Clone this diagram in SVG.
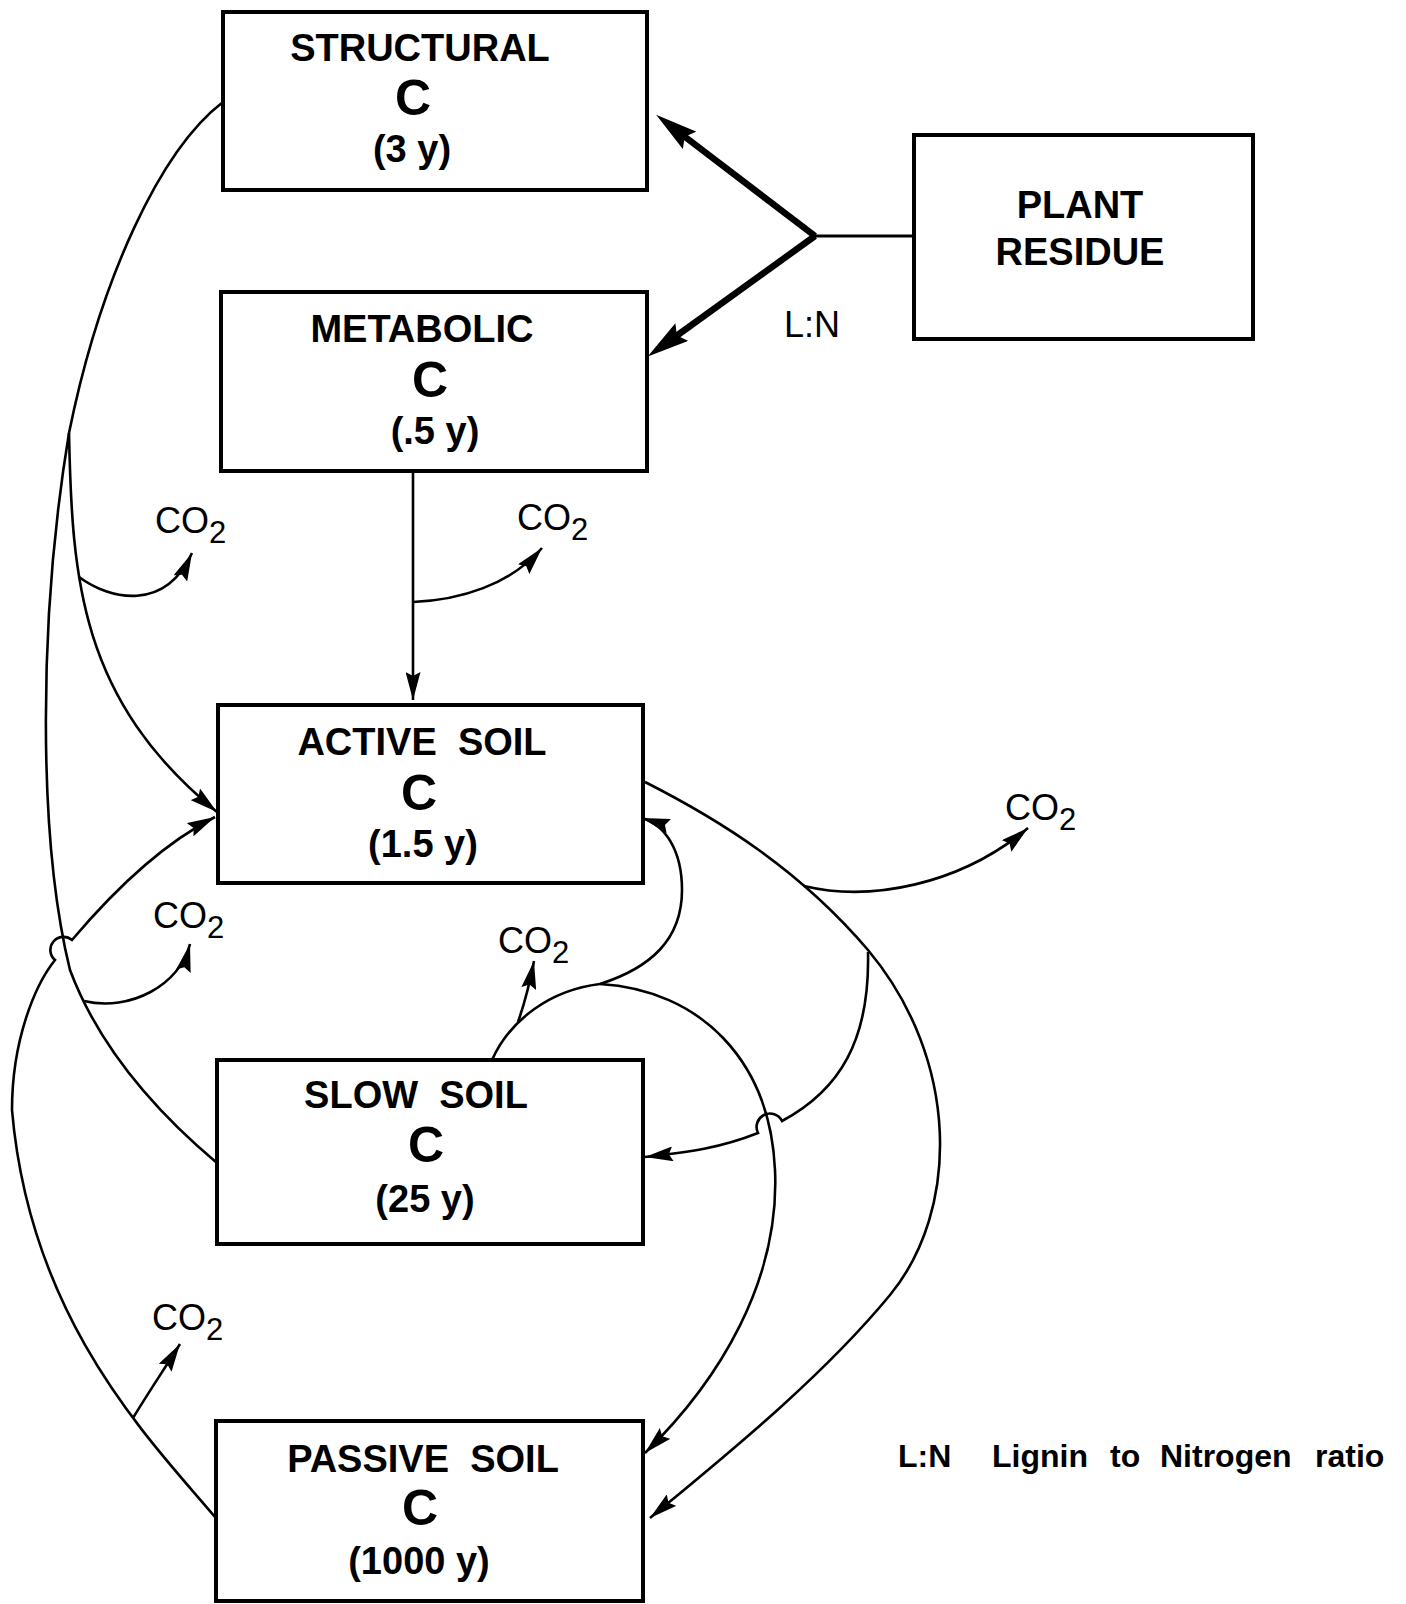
<svg xmlns="http://www.w3.org/2000/svg" width="1406" height="1604" viewBox="0 0 1406 1604">
<defs>
<style>
.box{fill:#fff;stroke:#000;stroke-width:4}
.t{font-family:"Liberation Sans",Arial,sans-serif;font-weight:bold;font-size:38px;text-anchor:middle;fill:#000;white-space:pre}
.c{font-family:"Liberation Sans",Arial,sans-serif;font-weight:bold;font-size:50px;text-anchor:middle;fill:#000}
.r{font-family:"Liberation Sans",Arial,sans-serif;font-size:36px;fill:#000}
.b{font-family:"Liberation Sans",Arial,sans-serif;font-weight:bold;font-size:32px;fill:#000}
.ln{fill:none;stroke:#000;stroke-width:2.6}
.thick{fill:none;stroke:#000;stroke-width:6.5}
</style>
<marker id="a" viewBox="0 0 28 15" refX="28" refY="7.5" markerWidth="28" markerHeight="15" markerUnits="userSpaceOnUse" orient="auto"><path d="M0,0 L28,7.5 L0,15 L4,7.5 z" fill="#000"/></marker>
<marker id="at" viewBox="0 0 42 22" refX="17" refY="11" markerWidth="42" markerHeight="22" markerUnits="userSpaceOnUse" orient="auto"><path d="M0,0 L42,11 L0,22 L6,11 z" fill="#000"/></marker>
</defs>
<rect width="1406" height="1604" fill="#fff"/>

<g id="connectors">
<!-- plant residue split -->
<line class="ln" style="stroke-width:3" x1="914" y1="236" x2="815" y2="236"/>
<line class="thick" x1="815" y1="236" x2="676" y2="130" marker-end="url(#at)"/>
<line class="thick" x1="815" y1="236" x2="668" y2="342" marker-end="url(#at)"/>
<!-- metabolic to active -->
<line class="ln" x1="413" y1="471" x2="413" y2="700" marker-end="url(#a)"/>
<path class="ln" d="M413,602 C460,600 510,585 542,548" marker-end="url(#a)"/>
<!-- structural trunk -->
<path class="ln" d="M223,102 C160,150 100,280 69,433"/>
<!-- structural to active -->
<path class="ln" d="M69,433 C72,580 80,700 217,812" marker-end="url(#a)"/>
<path class="ln" d="M79,577 C110,600 165,612 192,553" marker-end="url(#a)"/>
<!-- structural to slow -->
<path class="ln" d="M69,433 C38,620 38,840 70,970 C100,1050 160,1115 217,1163"/>
<path class="ln" d="M84,1001 C130,1012 180,985 190,944" marker-end="url(#a)"/>
<!-- passive to active -->
<path class="ln" d="M215,1517 C150,1440 30,1320 12,1110 C12,1040 35,985 55,960 A10,10 0 0 1 72,940 C110,895 160,845 215,817" marker-end="url(#a)"/>
<path class="ln" d="M133,1418 C150,1390 165,1368 180,1344" marker-end="url(#a)"/>
<!-- active to passive -->
<path class="ln" d="M645,782 C720,820 800,870 868,950 C960,1060 960,1210 890,1295 C820,1380 720,1460 650,1518" marker-end="url(#a)"/>
<path class="ln" d="M804,886 C870,902 960,885 1028,828" marker-end="url(#a)"/>
<!-- active to slow -->
<path class="ln" d="M868,952 C870,1040 840,1090 782,1121 A12,12 0 0 0 758,1133 C720,1148 690,1152 645,1157" marker-end="url(#a)"/>
<!-- slow out -->
<path class="ln" d="M492,1060 C510,1020 550,990 600,984"/>
<path class="ln" d="M518,1022 C525,1002 530,982 534,961" marker-end="url(#a)"/>
<path class="ln" d="M600,984 C650,968 682,940 682,890 C682,850 665,825 642,818" marker-end="url(#a)"/>
<path class="ln" d="M600,984 C700,990 770,1060 775,1170 C780,1280 720,1380 645,1453" marker-end="url(#a)"/>
</g>

<g id="structural">
<rect class="box" x="223" y="12" width="424" height="178"/>
<text class="t" x="420" y="61">STRUCTURAL</text>
<text class="c" x="413" y="115">C</text>
<text class="t" x="412" y="162">(3 y)</text>
</g>
<g id="metabolic">
<rect class="box" x="221" y="292" width="426" height="179"/>
<text class="t" x="422" y="342">METABOLIC</text>
<text class="c" x="430" y="397">C</text>
<text class="t" x="435" y="444">(.5 y)</text>
</g>
<g id="plant-residue">
<rect class="box" x="914" y="135" width="339" height="204"/>
<text class="t" x="1080" y="218">PLANT</text>
<text class="t" x="1080" y="265">RESIDUE</text>
</g>
<g id="active">
<rect class="box" x="218" y="705" width="425" height="178"/>
<text class="t" x="422" y="755" xml:space="preserve">ACTIVE  SOIL</text>
<text class="c" x="419" y="810">C</text>
<text class="t" x="423" y="857">(1.5 y)</text>
</g>
<g id="slow">
<rect class="box" x="217" y="1060" width="426" height="184"/>
<text class="t" x="416" y="1108" xml:space="preserve">SLOW  SOIL</text>
<text class="c" x="426" y="1162">C</text>
<text class="t" x="425" y="1212">(25 y)</text>
</g>
<g id="passive">
<rect class="box" x="216" y="1421" width="427" height="180"/>
<text class="t" x="423" y="1472" xml:space="preserve">PASSIVE  SOIL</text>
<text class="c" x="420" y="1525">C</text>
<text class="t" x="419" y="1574">(1000 y)</text>
</g>

<g id="labels">
<text class="r" x="784" y="337">L:N</text>
<text class="r" x="155" y="533">CO<tspan dy="10" font-size="31">2</tspan></text>
<text class="r" x="517" y="530">CO<tspan dy="10" font-size="31">2</tspan></text>
<text class="r" x="1005" y="820">CO<tspan dy="10" font-size="31">2</tspan></text>
<text class="r" x="153" y="928">CO<tspan dy="10" font-size="31">2</tspan></text>
<text class="r" x="498" y="953">CO<tspan dy="10" font-size="31">2</tspan></text>
<text class="r" x="152" y="1330">CO<tspan dy="10" font-size="31">2</tspan></text>
<text class="b" x="898" y="1467">L:N</text>
<text class="b" x="992" y="1467">Lignin</text>
<text class="b" x="1110" y="1467">to</text>
<text class="b" x="1160" y="1467">Nitrogen</text>
<text class="b" x="1315" y="1467">ratio</text>
</g>
</svg>
